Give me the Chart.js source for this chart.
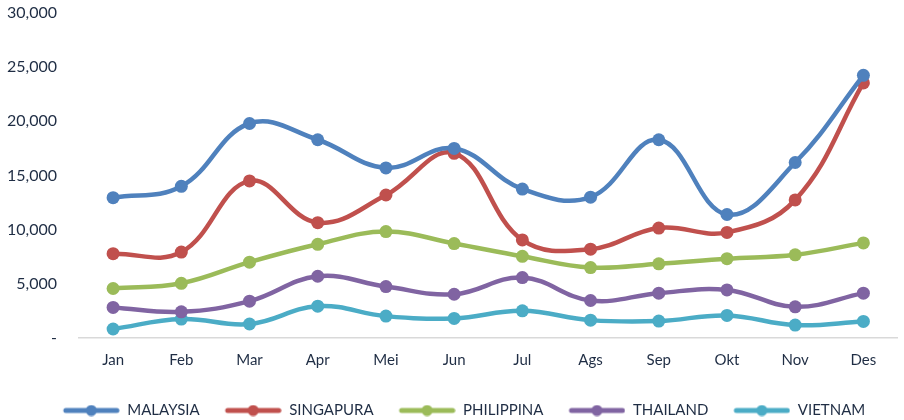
<!DOCTYPE html>
<html>
<head>
<meta charset="utf-8">
<script src="https://cdn.jsdelivr.net/npm/chart.js@4"></script>
<style>
    html, body { margin: 0; padding: 0; background: #ffffff; }
    #wrap { position: relative; width: 904px; height: 420px; }
</style>
</head>
<body>
<div id="wrap"><canvas id="visitorChart"></canvas></div>
<script>
// Monthly visitors by country of origin
const months = ['Jan', 'Feb', 'Mar', 'Apr', 'Mei', 'Jun', 'Jul', 'Ags', 'Sep', 'Okt', 'Nov', 'Des'];

const malaysia   = [12950, 14000, 19800, 18300, 15700, 17500, 13750, 13000, 18300, 11400, 16200, 24250];
const singapura  = [7780, 7930, 14500, 10650, 13200, 17050, 9050, 8200, 10150, 9750, 12750, 23550];
const philippina = [4570, 5050, 7000, 8650, 9820, 8720, 7540, 6500, 6850, 7320, 7680, 8780];
const thailand   = [2820, 2420, 3400, 5700, 4750, 4040, 5580, 3460, 4140, 4440, 2880, 4140];
const vietnam    = [830, 1750, 1290, 2940, 2020, 1810, 2510, 1650, 1560, 2080, 1190, 1530];

const yTicks = [0, 5000, 10000, 15000, 20000, 25000, 30000];

const seriesNames  = ['MALAYSIA', 'SINGAPURA', 'PHILIPPINA', 'THAILAND', 'VIETNAM'];
const seriesData   = [malaysia, singapura, philippina, thailand, vietnam];
const seriesColors = ['#4F81BD', '#C0504D', '#9BBB59', '#8064A2', '#4BACC6'];

const textColor = '#1F2D44';
const fontFamily = 'Lato, "Open Sans", sans-serif';

// legend marker: blank gap on the left, then a thick line with a dot in the middle
const MARK_W = 82;
function legendMarker(color) {
    const c = document.createElement('canvas');
    c.width = MARK_W;
    c.height = 12;
    const g = c.getContext('2d');
    g.strokeStyle = color;
    g.lineWidth = 5;
    g.lineCap = 'round';
    g.beginPath();
    g.moveTo(MARK_W - 54, 6);
    g.lineTo(MARK_W - 3, 6);
    g.stroke();
    g.fillStyle = color;
    g.beginPath();
    g.arc(MARK_W - 28.5, 6, 5.5, 0, Math.PI * 2);
    g.fill();
    return c;
}

const markers = seriesColors.map(legendMarker);

const datasets = seriesNames.map((name, i) => ({
    label: name,
    data: seriesData[i],
    borderColor: seriesColors[i],
    backgroundColor: seriesColors[i],
    borderWidth: 4.5,
    pointRadius: 6.5,
    pointHoverRadius: 6.5,
    pointBorderWidth: 0,
    tension: 0.4,
    fill: false
}));

new Chart(document.getElementById('visitorChart'), {
    type: 'line',
    data: { labels: months, datasets: datasets },
    options: {
        responsive: true,
        maintainAspectRatio: false,
        animation: false,
        layout: { padding: { top: 13, right: 1, left: 0, bottom: -8 } },
        plugins: {
            tooltip: { enabled: false },
            legend: {
                position: 'bottom',
                labels: {
                    usePointStyle: true,
                    pointStyleWidth: MARK_W,
                    padding: 0,
                    color: textColor,
                    font: { family: fontFamily, size: 15 },
                    generateLabels: (chart) => {
                        const items = Chart.defaults.plugins.legend.labels.generateLabels(chart);
                        items.forEach((it, i) => { it.pointStyle = markers[i]; });
                        return items;
                    }
                }
            }
        },
        scales: {
            x: {
                offset: true,
                grid: { display: false, drawTicks: false },
                border: { display: true, color: '#D9D9D9', width: 1.5 },
                afterFit: (axis) => { axis.height += 21; },
                ticks: {
                    color: textColor,
                    padding: 13,
                    font: { family: fontFamily, size: 15 }
                }
            },
            y: {
                min: 0,
                max: 30000,
                // invisible tick marks keep the labels away from the plot
                grid: { display: true, drawOnChartArea: false, drawTicks: true, tickLength: 22, tickColor: 'rgba(0,0,0,0)' },
                border: { display: false },
                afterBuildTicks: (axis) => { axis.ticks = yTicks.map(v => ({ value: v })); },
                afterFit: (axis) => { axis.width = 79; },
                ticks: {
                    color: textColor,
                    padding: 0,
                    font: { family: fontFamily, size: 16 },
                    callback: (v) => v === 0 ? '-' : v.toLocaleString('en-US')
                }
            }
        }
    }
});
</script>
</body>
</html>
